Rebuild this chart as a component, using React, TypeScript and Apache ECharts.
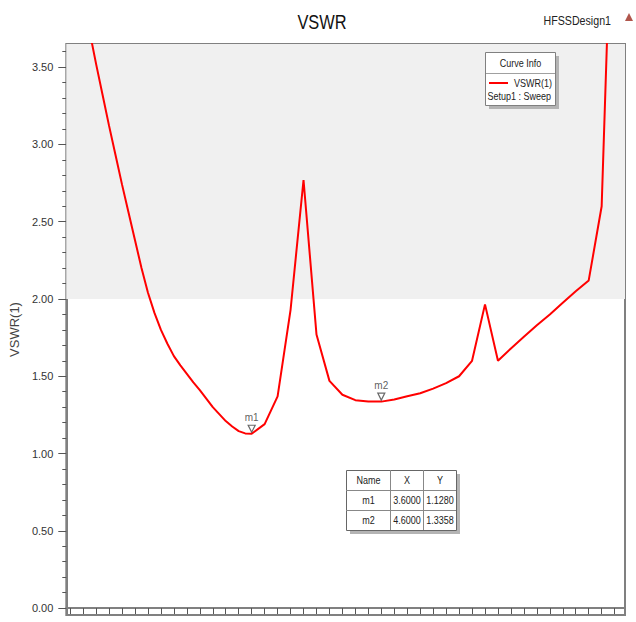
import React, { useEffect, useRef } from "react";
import * as echarts from "echarts";

// ---- data ----
const freqs = [2.3, 2.35, 2.4, 2.45, 2.5, 2.55, 2.6, 2.65, 2.7, 2.75, 2.8, 2.85, 2.9, 2.95, 3.0, 3.05, 3.1, 3.15, 3.2, 3.25, 3.3, 3.35, 3.4, 3.45, 3.5, 3.55, 3.6, 3.7, 3.8, 3.9, 4.0, 4.1, 4.2, 4.3, 4.4, 4.5, 4.6, 4.7, 4.8, 4.9, 5.0, 5.1, 5.2, 5.3, 5.4, 5.5, 5.6, 5.7, 5.8, 5.9, 6.0, 6.1, 6.2, 6.3, 6.4];
const vswr = [3.95, 3.73, 3.52, 3.32, 3.12, 2.93, 2.74, 2.56, 2.38, 2.2, 2.04, 1.91, 1.8, 1.71, 1.63, 1.57, 1.515, 1.46, 1.41, 1.355, 1.3, 1.255, 1.21, 1.175, 1.145, 1.13, 1.128, 1.19, 1.37, 1.93, 2.77, 1.77, 1.47, 1.38, 1.345, 1.337, 1.3358, 1.35, 1.37, 1.39, 1.42, 1.455, 1.5, 1.6, 1.965, 1.6, 1.68, 1.755, 1.83, 1.9, 1.975, 2.05, 2.12, 2.6, 5.2];
const markerNames = ["m1", "m2"];
const markerX = [3.6, 4.6];
const markerY = [1.128, 1.3358];
const yMajorTicks = [0, 0.5, 1.0, 1.5, 2.0, 2.5, 3.0, 3.5];
const yMinorTicks = [0.1, 0.2, 0.3, 0.4, 0.6, 0.7, 0.8, 0.9, 1.1, 1.2, 1.3, 1.4, 1.6, 1.7, 1.8, 1.9, 2.1, 2.2, 2.3, 2.4, 2.6, 2.7, 2.8, 2.9, 3.1, 3.2, 3.3, 3.4, 3.6];
const xTicks = [2.2, 2.3, 2.4, 2.5, 2.6, 2.7, 2.8, 2.9, 3.0, 3.1, 3.2, 3.3, 3.4, 3.5, 3.6, 3.7, 3.8, 3.9, 4.0, 4.1, 4.2, 4.3, 4.4, 4.5, 4.6, 4.7, 4.8, 4.9, 5.0, 5.1, 5.2, 5.3, 5.4, 5.5, 5.6, 5.7, 5.8, 5.9, 6.0, 6.1, 6.2, 6.3, 6.4];
const specLimit = 2.0;
const xMin = 2.17;
const xMax = 6.48;
const yMin = -0.045;
const yMax = 3.65;

const FONT = "'Liberation Sans', Arial, sans-serif";
const SX = 0.82; // horizontal condensing of texts

export default function App() {
  const ref = useRef<HTMLDivElement>(null);

  useEffect(() => {
    document.body.style.margin = "0";
    const chart = echarts.init(ref.current!, undefined, { renderer: "svg" });

    const txt = (x: number, y: number, text: string, size: number, align: string, fill = "#222", z = 12) => ({
      type: "text", x, y, scaleX: SX, z,
      style: { text, fontSize: size, fontFamily: FONT, fill, align, verticalAlign: "middle" },
    });

    // table layout
    const tX = 346, tY = 470, colW = [44, 33, 33], rowH = 20;
    const tW = colW[0] + colW[1] + colW[2];
    const tH = rowH * 3;
    const tableCells: any[] = [];
    const header = ["Name", "X", "Y"];
    const rows = [header, ...markerNames.map((n, i) => [n, markerX[i].toFixed(4), markerY[i].toFixed(4)])];
    rows.forEach((r, ri) => {
      let cx = tX;
      r.forEach((t, ci) => {
        tableCells.push(txt(cx + colW[ci] / 2 + 0.5, tY + ri * rowH + rowH / 2 + 0.5, t, 11, "center"));
        cx += colW[ci];
      });
    });

    const option: any = {
      animation: false,
      grid: {
        left: 66, right: 11, top: 44, bottom: 7,
        show: true, borderColor: "#808080", borderWidth: 2, backgroundColor: "transparent",
      },
      xAxis: [{
        type: "value", min: xMin, max: xMax,
        axisLine: { show: true, lineStyle: { color: "#808080", width: 2 } },
        axisTick: { show: true, customValues: xTicks, length: 6, lineStyle: { color: "#555", width: 1 } },
        axisLabel: { show: false },
        splitLine: { show: false },
      }],
      yAxis: [{
        type: "value", min: yMin, max: yMax, position: "left",
        name: "VSWR(1)", nameLocation: "middle", nameGap: 39,
        nameTextStyle: { fontSize: 13, fontFamily: FONT, color: "#444" },
        axisLine: { show: true, lineStyle: { color: "#808080", width: 2 } },
        axisTick: { show: true, customValues: yMajorTicks, length: 8, lineStyle: { color: "#555", width: 1 } },
        axisLabel: {
          show: true, customValues: yMajorTicks, margin: 13,
          formatter: (v: number) => v.toFixed(2),
          fontSize: 11, fontFamily: FONT, color: "#333",
        },
        splitLine: { show: false },
      }, {
        type: "value", min: yMin, max: yMax, position: "left",
        axisLine: { show: false },
        axisTick: { show: true, customValues: yMinorTicks, length: 4, lineStyle: { color: "#555", width: 1 } },
        axisLabel: { show: false },
        splitLine: { show: false },
      }],
      series: [{
        type: "line",
        data: freqs.map((f, i) => [f, vswr[i]]),
        symbol: "none",
        clip: true,
        lineStyle: { color: "#ff0000", width: 2 },
        z: 3,
        markArea: {
          silent: true,
          itemStyle: { color: "#f0f0f0", opacity: 1 },
          data: [[{ xAxis: xMin, yAxis: specLimit }, { xAxis: xMax, yAxis: yMax }]],
        },
      }, {
        type: "scatter",
        data: markerX.map((x, i) => ({ value: [x, markerY[i]], name: markerNames[i] })),
        symbol: "triangle",
        symbolRotate: 180,
        symbolSize: 7,
        symbolOffset: [0, -5],
        itemStyle: { color: "#ffffff", borderColor: "#444", borderWidth: 1.2 },
        label: {
          show: true, position: "top", distance: 2,
          formatter: (p: any) => p.name,
          fontSize: 10, fontFamily: FONT, color: "#333",
        },
        z: 4,
      }],
      graphic: [
        txt(322, 22, "VSWR", 20, "center", "#111"),
        txt(611, 21, "HFSSDesign1", 13, "right", "#222"),
        { type: "polygon", shape: { points: [[625, 21], [633, 21], [629, 13]] }, style: { fill: "#b0564c" } },
        // Curve info legend
        { type: "rect", shape: { x: 489, y: 56, width: 70, height: 53 }, style: { fill: "#b4b4b4" }, z: 10 },
        { type: "rect", shape: { x: 485.5, y: 52.5, width: 70, height: 53 }, style: { fill: "#ffffff", stroke: "#808080", lineWidth: 1 }, z: 11 },
        { type: "line", shape: { x1: 486, y1: 73.5, x2: 555, y2: 73.5 }, style: { stroke: "#a0a0a0", lineWidth: 1 }, z: 12 },
        txt(520.5, 63.5, "Curve Info", 11, "center"),
        { type: "line", shape: { x1: 489, y1: 83, x2: 508, y2: 83 }, style: { stroke: "#ff0000", lineWidth: 2 }, z: 12 },
        txt(552, 83, "VSWR(1)", 11, "right"),
        txt(487.5, 96, "Setup1 : Sweep", 11, "left"),
        // marker table
        { type: "rect", shape: { x: tX + 4, y: tY + 4, width: tW, height: tH }, style: { fill: "#b4b4b4" }, z: 10 },
        { type: "rect", shape: { x: tX + 0.5, y: tY + 0.5, width: tW, height: tH }, style: { fill: "#ffffff", stroke: "#666", lineWidth: 1 }, z: 11 },
        { type: "line", shape: { x1: tX + colW[0] + 0.5, y1: tY, x2: tX + colW[0] + 0.5, y2: tY + tH }, style: { stroke: "#888", lineWidth: 1 }, z: 12 },
        { type: "line", shape: { x1: tX + colW[0] + colW[1] + 0.5, y1: tY, x2: tX + colW[0] + colW[1] + 0.5, y2: tY + tH }, style: { stroke: "#888", lineWidth: 1 }, z: 12 },
        { type: "line", shape: { x1: tX, y1: tY + rowH + 0.5, x2: tX + tW, y2: tY + rowH + 0.5 }, style: { stroke: "#888", lineWidth: 1 }, z: 12 },
        { type: "line", shape: { x1: tX, y1: tY + 2 * rowH + 0.5, x2: tX + tW, y2: tY + 2 * rowH + 0.5 }, style: { stroke: "#888", lineWidth: 1 }, z: 12 },
        ...tableCells,
      ],
    };
    chart.setOption(option);
    return () => chart.dispose();
  }, []);

  return <div ref={ref} style={{ position: "absolute", left: 0, top: 0, width: 636, height: 622 }} />;
}
